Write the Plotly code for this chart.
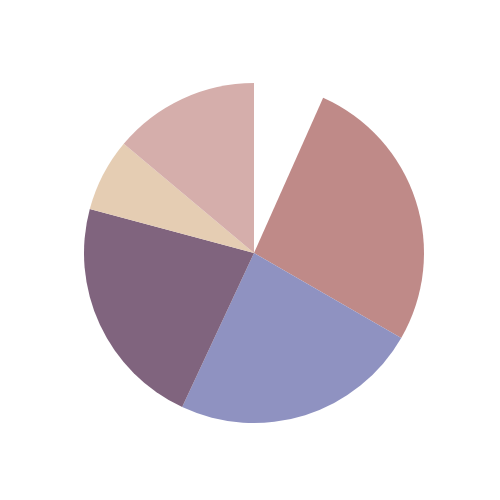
import plotly.graph_objects as go

labels = ["Gap", "A", "B", "C", "D", "E"]
values = [24, 96, 85, 80, 25, 50]
colors = ["rgba(255,255,255,0)", "#bf8a88", "#8f92c1", "#80647e", "#e5cdb3", "#d5aeab"]

fig = go.Figure(go.Pie(
    labels=labels, values=values, sort=False, direction="clockwise", rotation=0,
    marker=dict(colors=colors, line=dict(width=0)),
    textinfo="none", hoverinfo="none", showlegend=False,
))
fig.update_layout(width=500, height=500, margin=dict(l=76, r=84, t=75, b=85),
                  paper_bgcolor="white", plot_bgcolor="white", showlegend=False)
fig.write_html("out.html")
